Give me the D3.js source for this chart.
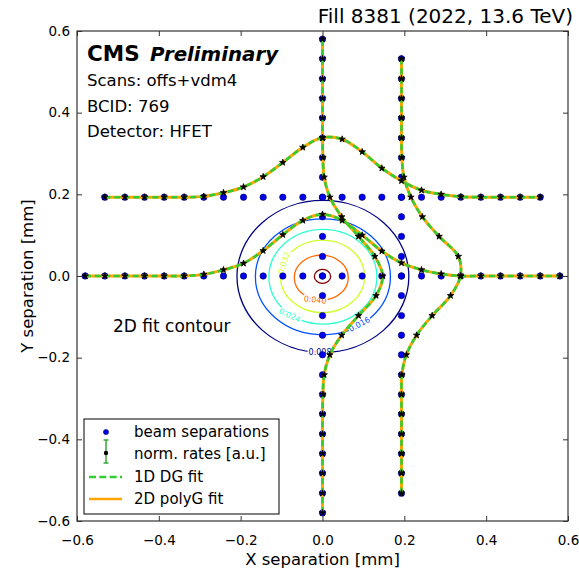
<!DOCTYPE html>
<html><head><meta charset="utf-8">
<script src="https://cdn.jsdelivr.net/npm/d3@7"></script>
<style>body{margin:0;background:#fff} svg{display:block;font-family:"DejaVu Sans",sans-serif}</style>
</head><body><svg id="c" width="579" height="568"></svg>
<script>
// ---------- data ----------
const centerPos = [-0.58,-0.532,-0.483,-0.435,-0.387,-0.338,-0.29,-0.242,-0.193,-0.145,-0.097,-0.048,0,0.048,0.097,0.145,0.193,0.242,0.29,0.338,0.387,0.435,0.483,0.532,0.58];
const offsetPos = [-0.532,-0.483,-0.435,-0.387,-0.338,-0.29,-0.242,-0.193,-0.145,-0.097,-0.048,0,0.048,0.097,0.145,0.193,0.242,0.29,0.338,0.387,0.435,0.483,0.532];
const offsetSep = 0.193;
// normalised rates (drawn as displacement perpendicular to the scan line)
const centerRowRate = [0,0,0,0,0,0,0.004,0.015,0.031,0.062,0.101,0.136,0.151,0.136,0.100,0.061,0.032,0.015,0.005,0,0,0,0,0,0];
const centerColRate = [0,0,0,0,0,0,0.001,0.004,0.018,0.047,0.088,0.131,0.147,0.128,0.088,0.047,0.018,0.004,0.001,0,0,0,0,0,0];
const offsetRowRate = [0,0,0,0,0,0.002,0.011,0.025,0.050,0.085,0.122,0.146,0.142,0.111,0.071,0.040,0.017,0.007,0.001,0,0,0,0];
const offsetColRate = [0,0,0,0,0,0,0.001,0.012,0.037,0.075,0.120,0.144,0.139,0.092,0.051,0.023,0.006,0.001,0,0,0,0,0];
// 2D fit contours
const contourLevels = [0.008,0.016,0.024,0.032,0.040,0.048];
const contourRx = [0.210,0.165,0.132,0.103,0.066,0.020];
const contourRy = [0.186,0.142,0.116,0.089,0.055,0.017];
const contourCx = [0.001,0.001,0.001,0.0,-0.003,0.0];
const contourCy = [-0.001,-0.002,-0.002,-0.001,-0.004,-0.001];
const contourColors = ["#000080","#0050ff","#29ffce","#ceff29","#ff6800","#800000"];
const contourLabelX = [-0.006,0.09,-0.08,-0.094,-0.018,null];
const contourLabelY = [-0.186,-0.118,-0.096,0.032,-0.058,null];
const contourLabelRot = [0,-28,25,-72,6,0];
const xTicks = [-0.6,-0.4,-0.2,0.0,0.2,0.4,0.6];
const yTicks = [-0.6,-0.4,-0.2,0.0,0.2,0.4,0.6];

// ---------- chart ----------
const svg = d3.select("#c");
const sx = d3.scaleLinear().domain([-0.6,0.6]).range([77,568]);
const sy = d3.scaleLinear().domain([-0.6,0.6]).range([521,31]);
const fmt = d => (d < 0 ? "\u2212" : "") + Math.abs(d).toFixed(1);

const plot = svg.append("g");
plot.append("defs").append("clipPath").attr("id","clip")
  .append("rect").attr("x",77).attr("y",31).attr("width",491).attr("height",490);
const g = plot.append("g").attr("clip-path","url(#clip)");

// contours
const cg = g.append("g");
contourLevels.forEach((lv,i)=>{
  cg.append("ellipse")
    .attr("cx",sx(contourCx[i])).attr("cy",sy(contourCy[i]))
    .attr("rx",sx(contourRx[i])-sx(0)).attr("ry",sy(0)-sy(contourRy[i]))
    .attr("fill","none").attr("stroke",contourColors[i]).attr("stroke-width",1.3);
});
contourLevels.forEach((lv,i)=>{
  if (contourLabelX[i]===null) return;
  const x = sx(contourLabelX[i]), y = sy(contourLabelY[i]);
  cg.append("text").attr("transform",`translate(${x},${y}) rotate(${contourLabelRot[i]})`)
    .attr("text-anchor","middle").attr("dy","0.35em")
    .attr("font-size",8).attr("fill",contourColors[i])
    .attr("stroke","#fff").attr("stroke-width",3).attr("paint-order","stroke")
    .text(lv.toFixed(3));
});

// scans
const scans = [
  {pos:centerPos, rate:centerRowRate, dir:"x", base:0},
  {pos:centerPos, rate:centerColRate, dir:"y", base:0},
  {pos:offsetPos, rate:offsetRowRate, dir:"x", base:offsetSep},
  {pos:offsetPos, rate:offsetColRate, dir:"y", base:offsetSep}
];
function sepPts(s){ return s.pos.map(p => s.dir==="x" ? [p,s.base] : [s.base,p]); }
function ratePts(s){ return s.pos.map((p,i) => s.dir==="x" ? [p,s.base+s.rate[i]] : [s.base+s.rate[i],p]); }

// beam separations
scans.forEach(s=>{
  g.append("g").selectAll("circle").data(sepPts(s)).join("circle")
    .attr("cx",d=>sx(d[0])).attr("cy",d=>sy(d[1])).attr("r",3.2)
    .attr("fill","#0000ee").attr("stroke","#00005a").attr("stroke-width",0.6);
});
// fits
const line = d3.line().x(d=>sx(d[0])).y(d=>sy(d[1])).curve(d3.curveCatmullRom.alpha(0.5));
scans.forEach(s=>{
  g.append("path").attr("d",line(ratePts(s))).attr("fill","none")
    .attr("stroke","#ffa500").attr("stroke-width",3);
});
scans.forEach(s=>{
  g.append("path").attr("d",line(ratePts(s))).attr("fill","none")
    .attr("stroke","#33cc33").attr("stroke-width",2.6).attr("stroke-dasharray","6,3.5");
});
// norm. rates
const star = d3.symbol().type(d3.symbolStar).size(13);
scans.forEach(s=>{
  g.append("g").selectAll("path").data(ratePts(s)).join("path")
    .attr("transform",d=>`translate(${sx(d[0])},${sy(d[1])})`)
    .attr("d",star).attr("fill","#000").attr("stroke","#000").attr("stroke-width",0.8);
});

// axes (inward ticks all round)
const axStyle = sel => {
  sel.select(".domain").remove();
  sel.selectAll(".tick line").attr("stroke","#333").attr("stroke-width",1);
  sel.selectAll("text").attr("font-size",13.5).attr("fill","#000").attr("font-family","DejaVu Sans");
};
svg.append("g").attr("transform","translate(0,521)")
  .call(d3.axisBottom(sx).tickValues(xTicks).tickSize(-5).tickPadding(14).tickFormat(fmt)).call(axStyle);
svg.append("g").attr("transform","translate(0,31)")
  .call(d3.axisTop(sx).tickValues(xTicks).tickSize(-5).tickFormat("")).call(axStyle);
svg.append("g").attr("transform","translate(77,0)")
  .call(d3.axisLeft(sy).tickValues(yTicks).tickSize(-5).tickPadding(7).tickFormat(fmt)).call(axStyle);
svg.append("g").attr("transform","translate(568,0)")
  .call(d3.axisRight(sy).tickValues(yTicks).tickSize(-5).tickFormat("")).call(axStyle);
svg.append("rect").attr("x",77).attr("y",31).attr("width",491).attr("height",490)
  .attr("fill","none").attr("stroke","#333").attr("stroke-width",1.2);

// labels
svg.append("text").attr("x",322.5).attr("y",565).attr("text-anchor","middle")
  .attr("font-size",16.5).text("X separation [mm]");
svg.append("text").attr("transform","translate(33,276) rotate(-90)").attr("text-anchor","middle")
  .attr("font-size",16.5).text("Y separation [mm]");
svg.append("text").attr("x",573).attr("y",23).attr("text-anchor","end")
  .attr("font-size",20).text("Fill 8381 (2022, 13.6 TeV)");

svg.append("text").attr("x",87).attr("y",61).attr("font-size",21.5).attr("font-weight","bold").text("CMS");
svg.append("text").attr("x",150).attr("y",61).attr("font-size",19.8).attr("font-weight","bold")
  .attr("font-style","italic").text("Preliminary");
["Scans: offs+vdm4","BCID: 769","Detector: HFET"].forEach((t,i)=>{
  svg.append("text").attr("x",87).attr("y",86+i*25.7).attr("font-size",16.5).text(t);
});
svg.append("text").attr("x",113).attr("y",332).attr("font-size",17).text("2D fit contour");

// legend
const lg = svg.append("g");
lg.append("rect").attr("x",84).attr("y",419).attr("width",195).attr("height",95)
  .attr("fill","#fff").attr("stroke","#000").attr("stroke-width",1);
lg.append("circle").attr("cx",106).attr("cy",432).attr("r",2.6).attr("fill","#0000ee").attr("stroke","#00005a").attr("stroke-width",0.5);
lg.append("line").attr("x1",106).attr("x2",106).attr("y1",440).attr("y2",463).attr("stroke","#33aa33").attr("stroke-width",1.5);
[440,463].forEach(y=>lg.append("line").attr("x1",103.5).attr("x2",108.5).attr("y1",y).attr("y2",y).attr("stroke","#33aa33").attr("stroke-width",1.5));
lg.append("circle").attr("cx",106).attr("cy",453).attr("r",2.2).attr("fill","#000");
lg.append("line").attr("x1",89).attr("x2",122).attr("y1",477).attr("y2",477).attr("stroke","#33cc33").attr("stroke-width",2.6).attr("stroke-dasharray","7,3.3");
lg.append("line").attr("x1",89).attr("x2",122).attr("y1",499).attr("y2",499).attr("stroke","#ffa500").attr("stroke-width",2.6);
["beam separations","norm. rates [a.u.]","1D DG fit","2D polyG fit"].forEach((t,i)=>{
  lg.append("text").attr("x",134).attr("y",437+i*22.4).attr("font-size",15).text(t);
});
</script></body></html>
